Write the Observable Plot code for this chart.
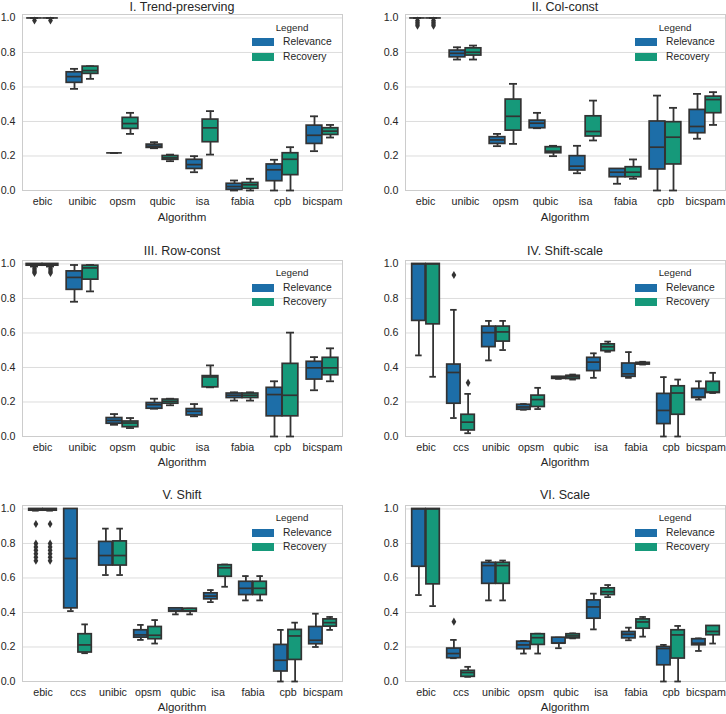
<!DOCTYPE html>
<html>
<head>
<meta charset="utf-8">
<script src="https://cdn.jsdelivr.net/npm/d3@7"></script>
<script src="https://cdn.jsdelivr.net/npm/@observablehq/plot@0.6"></script>
<style>
  html, body { margin: 0; padding: 0; background: #fff; }
  #root { position: relative; width: 726px; height: 714px; overflow: hidden; background: #fff;
          font-family: "Liberation Sans", Arial, sans-serif; color: #262626; }
  .panel { position: absolute; }
  .txt { position: absolute; white-space: nowrap; line-height: 1; }
  .c { transform: translate(-50%, -50%); }
  .l { transform: translate(0, -50%); }
  .patch { position: absolute; width: 22px; height: 8px; }
</style>
</head>
<body>
<div id="root"></div>
<script>
// ---------------- data ----------------
const algs8 = ["ebic", "unibic", "opsm", "qubic", "isa", "fabia", "cpb", "bicspam"];
const algs9 = ["ebic", "ccs", "unibic", "opsm", "qubic", "isa", "fabia", "cpb", "bicspam"];
const seriesNames = ["Relevance", "Recovery"];
const yTicks = [0, 0.2, 0.4, 0.6, 0.8, 1.0];

// each row: [lower whisker, q1, median, q3, upper whisker], aligned with the categories
const trendRelevance = [[1,1,1,1,1],[0.589,0.624,0.66,0.685,0.705],[0.218,0.218,0.218,0.218,0.218],[0.245,0.247,0.257,0.266,0.28],[0.106,0.125,0.15,0.178,0.199],[0,0.004,0.023,0.039,0.058],[0,0.054,0.12,0.151,0.178],[0.228,0.27,0.32,0.376,0.43]];
const trendRecovery  = [[1,1,1,1,1],[0.647,0.676,0.695,0.718,0.72],[0.328,0.357,0.388,0.421,0.45],[0.17,0.178,0.189,0.2,0.208],[0.208,0.28,0.363,0.411,0.46],[0,0.01,0.033,0.044,0.068],[0,0.089,0.181,0.216,0.251],[0.307,0.322,0.344,0.361,0.38]];
const trendOutRelevance = [["ebic",0.985]];
const trendOutRecovery  = [["ebic",0.985]];

const colRelevance = [[1,1,1,1,1],[0.759,0.772,0.795,0.811,0.83],[0.257,0.27,0.293,0.309,0.328],[0.361,0.361,0.39,0.405,0.45],[0.1,0.116,0.141,0.199,0.259],[0.039,0.077,0.106,0.125,0.125],[0,0.122,0.251,0.4,0.55],[0.3,0.332,0.371,0.467,0.56]];
const colRecovery  = [[1,1,1,1,1],[0.759,0.782,0.801,0.824,0.84],[0.27,0.347,0.43,0.527,0.618],[0.199,0.216,0.228,0.251,0.259],[0.29,0.313,0.342,0.43,0.521],[0.068,0.077,0.106,0.135,0.18],[0,0.151,0.309,0.396,0.479],[0.38,0.448,0.527,0.544,0.57]];
const colOutRelevance = [["ebic",0.985],["ebic",0.975],["ebic",0.965],["ebic",0.955]];
const colOutRecovery  = [["ebic",0.985],["ebic",0.975],["ebic",0.965],["ebic",0.955]];

const rowRelevance = [[0.985,0.99,1,1,1],[0.781,0.85,0.922,0.957,0.994],[0.068,0.074,0.093,0.107,0.13],[0.161,0.161,0.184,0.194,0.219],[0.117,0.122,0.146,0.159,0.188],[0.208,0.223,0.239,0.249,0.256],[0,0.117,0.243,0.282,0.32],[0.268,0.33,0.398,0.433,0.46]];
const rowRecovery  = [[0.985,0.99,1,1,1],[0.841,0.909,0.977,0.99,0.994],[0.049,0.054,0.078,0.087,0.107],[0.181,0.19,0.204,0.214,0.219],[0.285,0.285,0.345,0.35,0.412],[0.208,0.223,0.239,0.249,0.256],[0,0.117,0.239,0.421,0.602],[0.32,0.355,0.398,0.456,0.511]];
const rowOutRelevance = [["ebic",0.975],["ebic",0.965],["ebic",0.955],["ebic",0.948]];
const rowOutRecovery  = [["ebic",0.975],["ebic",0.965],["ebic",0.955],["ebic",0.948]];

const shiftScaleRelevance = [[0.47,0.67,1,1,1],[0.107,0.19,0.371,0.417,0.734],[0.441,0.518,0.602,0.637,0.67],[0.155,0.155,0.171,0.184,0.188],[0.334,0.334,0.34,0.346,0.346],[0.34,0.379,0.431,0.456,0.482],[0.34,0.346,0.363,0.423,0.489],[0,0.072,0.151,0.247,0.344],[0.214,0.223,0.229,0.276,0.32]];
const shiftScaleRecovery  = [[0.346,0.65,1,1,1],[0.019,0.035,0.083,0.126,0.247],[0.501,0.55,0.606,0.637,0.67],[0.159,0.171,0.214,0.237,0.282],[0.33,0.333,0.346,0.352,0.359],[0.491,0.495,0.52,0.534,0.55],[0.417,0.417,0.423,0.427,0.433],[0,0.126,0.252,0.291,0.33],[0.252,0.252,0.258,0.317,0.369]];
const shiftScaleOutRelevance = [["ccs",0.936]];
const shiftScaleOutRecovery  = [["ccs",0.311]];

const shiftRelevance = [[0.99,0.99,1,1,1],[0.408,0.424,0.713,1,1],[0.617,0.672,0.73,0.809,0.886],[0.241,0.254,0.27,0.297,0.328],[0.389,0.405,0.412,0.424,0.424],[0.46,0.476,0.495,0.511,0.53],[0.47,0.501,0.54,0.578,0.611],[0,0.058,0.123,0.212,0.299],[0.2,0.216,0.239,0.316,0.393]];
const shiftRecovery  = [[0.99,0.99,1,1,1],[0.164,0.168,0.212,0.274,0.331],[0.617,0.672,0.73,0.812,0.886],[0.22,0.245,0.268,0.316,0.356],[0.389,0.405,0.41,0.422,0.422],[0.549,0.607,0.659,0.674,0.678],[0.47,0.501,0.54,0.578,0.611],[0,0.125,0.264,0.299,0.341],[0.299,0.318,0.341,0.36,0.374]];
const shiftOutRelevance = [["ebic",0.913],["ebic",0.80],["ebic",0.78],["ebic",0.76],["ebic",0.74],["ebic",0.72],["ebic",0.70]];
const shiftOutRecovery  = [["ebic",0.913],["ebic",0.80],["ebic",0.78],["ebic",0.76],["ebic",0.74],["ebic",0.72],["ebic",0.70]];

const scaleRelevance = [[0.501,0.665,1,1,1],[0.135,0.135,0.162,0.191,0.241],[0.47,0.566,0.672,0.688,0.701],[0.162,0.187,0.212,0.231,0.235],[0.193,0.22,0.222,0.254,0.254],[0.302,0.364,0.432,0.47,0.509],[0.239,0.25,0.274,0.287,0.312],[0,0.094,0.191,0.2,0.212],[0.177,0.21,0.222,0.245,0.25]];
const scaleRecovery  = [[0.437,0.563,1,1,1],[0.027,0.027,0.052,0.062,0.085],[0.47,0.566,0.672,0.688,0.701],[0.162,0.212,0.254,0.274,0.277],[0.25,0.25,0.264,0.274,0.279],[0.489,0.501,0.52,0.54,0.559],[0.26,0.306,0.345,0.36,0.374],[0,0.133,0.27,0.297,0.322],[0.22,0.268,0.29,0.322,0.322]];
const scaleOutRelevance = [["ccs",0.347]];
const scaleOutRecovery  = [];

const panels = [
  {title: "I. Trend-preserving", algs: algs8, rel: trendRelevance, rec: trendRecovery, oRel: trendOutRelevance, oRec: trendOutRecovery},
  {title: "II. Col-const", algs: algs8, rel: colRelevance, rec: colRecovery, oRel: colOutRelevance, oRec: colOutRecovery},
  {title: "III. Row-const", algs: algs8, rel: rowRelevance, rec: rowRecovery, oRel: rowOutRelevance, oRec: rowOutRecovery},
  {title: "IV. Shift-scale", algs: algs9, rel: shiftScaleRelevance, rec: shiftScaleRecovery, oRel: shiftScaleOutRelevance, oRec: shiftScaleOutRecovery},
  {title: "V. Shift", algs: algs9, rel: shiftRelevance, rec: shiftRecovery, oRel: shiftOutRelevance, oRec: shiftOutRecovery},
  {title: "VI. Scale", algs: algs9, rel: scaleRelevance, rec: scaleRecovery, oRel: scaleOutRelevance, oRec: scaleOutRecovery}
];

// ---------------- style ----------------
const colors = ["#1d6ea8", "#16997a"];
const edge = "#333333";
const W = 363, mL = 42, mR = 1, mT = 4, mB = 22, plotH = 176;
const H = mT + plotH + mB;
const colLeft = [-20, 363];
const frameTops = [14, 259.5, 504.5];
const titleOffsets = [7.2, 9, 9.5];

const thinDiamond = {
  draw(ctx, size) {
    const r = Math.sqrt(size / Math.PI);
    const h = r * 1.35, w = r * 0.8;
    ctx.moveTo(0, -h); ctx.lineTo(w, 0); ctx.lineTo(0, h); ctx.lineTo(-w, 0); ctx.closePath();
  }
};

const root = document.getElementById("root");
function addText(str, x, y, size, cls) {
  const d = document.createElement("div");
  d.className = "txt " + cls;
  d.textContent = str;
  d.style.left = x + "px"; d.style.top = y + "px"; d.style.fontSize = size + "px";
  root.appendChild(d);
  return d;
}

panels.forEach((p, i) => {
  const col = i % 2, row = Math.floor(i / 2);
  const n = p.algs.length;
  const bw = (W - mL - mR) / n;
  const boxes = [];
  [p.rel, p.rec].forEach((arr, s) => arr.forEach((v, k) => boxes.push({alg: p.algs[k], s, lo: v[0], q1: v[1], med: v[2], q3: v[3], hi: v[4]})));
  const outs = [];
  [p.oRel, p.oRec].forEach((arr, s) => arr.forEach(([alg, v]) => outs.push({alg, s, v})));

  const marks = [
    Plot.ruleY(yTicks, {stroke: "#dddddd", strokeWidth: 1}),
    Plot.frame({stroke: "#cccccc", strokeWidth: 1})
  ];
  [0, 1].forEach(s => {
    const bx = boxes.filter(d => d.s === s);
    const ot = outs.filter(d => d.s === s);
    const gap = bw * 0.004;
    const boxInL = s === 0 ? bw * 0.1 + gap : bw * 0.5 + gap;
    const boxInR = s === 0 ? bw * 0.5 + gap : bw * 0.1 + gap;
    const capInL = s === 0 ? bw * 0.2 : bw * 0.6;
    const capInR = s === 0 ? bw * 0.6 : bw * 0.2;
    const dx = s === 0 ? -bw * 0.2 : bw * 0.2;
    marks.push(
      Plot.ruleX(bx, {x: "alg", y1: "q3", y2: "hi", dx, stroke: edge, strokeWidth: 1.8}),
      Plot.ruleX(bx, {x: "alg", y1: "lo", y2: "q1", dx, stroke: edge, strokeWidth: 1.8}),
      Plot.tickY(bx, {x: "alg", y: "hi", insetLeft: capInL, insetRight: capInR, stroke: edge, strokeWidth: 1.8}),
      Plot.tickY(bx, {x: "alg", y: "lo", insetLeft: capInL, insetRight: capInR, stroke: edge, strokeWidth: 1.8}),
      Plot.barY(bx, {x: "alg", y1: "q1", y2: "q3", insetLeft: boxInL, insetRight: boxInR, fill: colors[s], stroke: edge, strokeWidth: 1.7}),
      Plot.tickY(bx, {x: "alg", y: "med", insetLeft: boxInL, insetRight: boxInR, stroke: edge, strokeWidth: 1.7}),
      Plot.dot(ot, {x: "alg", y: "v", dx, symbol: thinDiamond, r: 3, fill: edge, stroke: "none"})
    );
  });

  const chart = Plot.plot({
    width: W, height: H,
    marginLeft: mL, marginRight: mR, marginTop: mT, marginBottom: mB,
    style: {fontFamily: "'Liberation Sans', Arial, sans-serif", fontSize: "10.7px", color: "#262626", background: "transparent", overflow: "visible"},
    x: {type: "band", domain: p.algs, paddingInner: 0, paddingOuter: 0, label: null, tickSize: 0, tickPadding: 7},
    y: {domain: [0, 1.02], ticks: yTicks, tickFormat: d3.format(".1f"), tickSize: 0, tickPadding: 7, label: null},
    marks
  });
  const wrap = document.createElement("div");
  wrap.className = "panel";
  const fTop = frameTops[row];
  wrap.style.left = colLeft[col] + "px";
  wrap.style.top = (fTop - mT) + "px";
  wrap.appendChild(chart);
  root.appendChild(wrap);

  const fL = colLeft[col] + mL, fR = colLeft[col] + W - mR;
  const fB = fTop + plotH;
  addText(p.title, (fL + fR) / 2, fTop - titleOffsets[row], 12.5, "c");
  addText("Algorithm", (fL + fR) / 2, fB + 27.5, 11.5, "c");
  // legend
  addText("Legend", fR - 50, fTop + 13.5, 9.8, "c");
  seriesNames.forEach((nm, s) => {
    const pt = document.createElement("div");
    pt.className = "patch";
    pt.style.left = (fR - 90) + "px";
    pt.style.top = (fTop + 24 + s * 14.5) + "px";
    pt.style.background = colors[s];
    root.appendChild(pt);
    addText(nm, fR - 59, fTop + 28 + s * 14.5, 10.3, "l");
  });
});
</script>
</body>
</html>
